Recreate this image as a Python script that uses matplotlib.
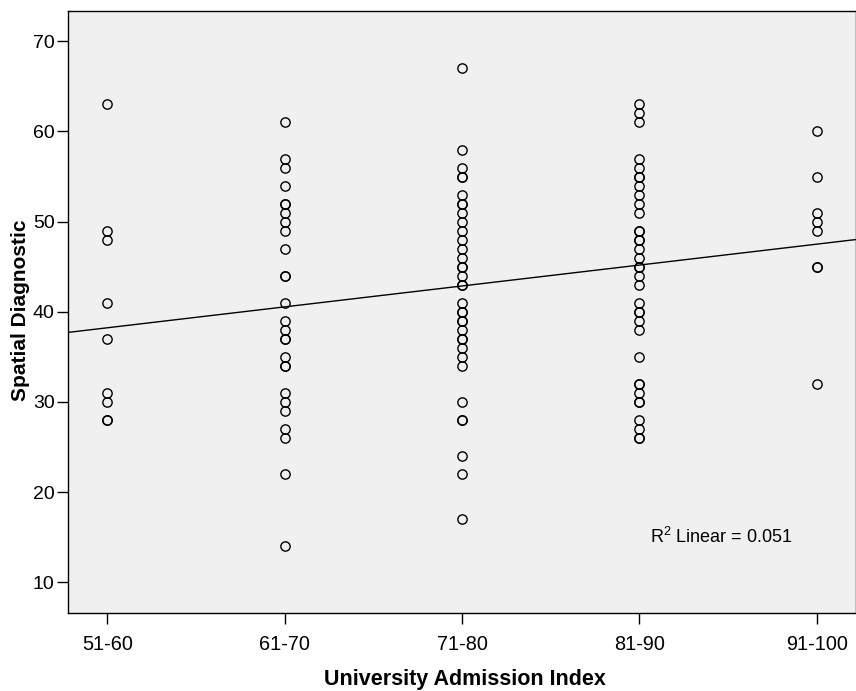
import matplotlib
matplotlib.use('Agg')
import matplotlib.pyplot as plt

plt.rcParams['font.family'] = ['Liberation Sans', 'DejaVu Sans']
plt.rcParams['mathtext.fontset'] = 'custom'
plt.rcParams['mathtext.rm'] = 'Liberation Sans'

face_color = '#F0F0F0'
ink_color = '#000000'

categories = ['51-60', '61-70', '71-80', '81-90', '91-100']

# spatial diagnostic scores, one list per admission band
scores_51_60 = [63, 49, 48, 41, 37, 31, 30, 28, 28]
scores_61_70 = [61, 57, 56, 54, 52, 52, 51, 50, 49, 47, 44, 44, 41, 39, 38, 37, 37,
				35, 34, 34, 31, 30, 29, 27, 26, 22, 14]
scores_71_80 = [67, 58, 56, 55, 55, 53, 52, 52, 51, 50, 49, 48, 47, 46, 45, 45, 44,
				43, 43, 41, 40, 40, 39, 39, 38, 37, 37, 36, 35, 34, 30, 28, 28, 24, 22, 17]
scores_81_90 = [63, 62, 61, 57, 56, 55, 55, 54, 53, 52, 51, 49, 49, 48, 48, 47, 46,
				45, 45, 44, 43, 41, 40, 40, 39, 38, 35, 32, 32, 31, 30, 30, 28, 27, 26, 26]
scores_91_100 = [60, 55, 51, 50, 49, 45, 45, 32]

all_scores = [scores_51_60, scores_61_70, scores_71_80, scores_81_90, scores_91_100]

# linear fit as shown on the chart (band index 1..5)
fit_intercept = 35.9
fit_slope = 2.32
r_squared = 0.051

y_ticks = [10, 20, 30, 40, 50, 60, 70]


def draw_points(ax):
	for num, scores in enumerate(all_scores, start = 1):
		ax.plot([num] * len(scores), scores, linestyle = 'none', marker = 'o',
				markersize = 6.7, markerfacecolor = 'none', markeredgecolor = ink_color,
				markeredgewidth = 1.0)


def draw_fit(ax, x_min, x_max):
	xs = [x_min, x_max]
	ys = [fit_intercept + fit_slope * x for x in xs]
	ax.plot(xs, ys, color = ink_color, linewidth = 1.0)


fig = plt.figure(figsize = (8.56, 6.91), dpi = 100)
ax = fig.add_axes([0.0791, 0.1124, 0.9204, 0.8716])
ax.set_facecolor(face_color)

x_min, x_max = 0.777, 5.218
draw_points(ax)
draw_fit(ax, x_min, x_max)

ax.set_xlim(x_min, x_max)
ax.set_ylim(6.54, 73.36)
ax.set_xticks(range(1, len(categories) + 1))
ax.set_xticklabels(categories)
ax.set_yticks(y_ticks)

for spine in ax.spines.values():
	spine.set_linewidth(1.0)
	spine.set_color(ink_color)

ax.tick_params(axis = 'x', direction = 'out', length = 7.8, width = 1.0, pad = 7.5, labelsize = 14.3)
ax.tick_params(axis = 'y', direction = 'out', length = 7.8, width = 1.0, pad = 1.7, labelsize = 14)

ax.text(4.058, 14.3, r'R$^{2}$ Linear = %.3f' % r_squared, fontsize = 13, ha = 'left', va = 'baseline')

fig.text(465 / 856, 0.009, 'University Admission Index', fontsize = 15.5, fontweight = 'bold',
		 ha = 'center', va = 'baseline')
fig.text(21 / 856, 1 - 310 / 691, 'Spatial Diagnostic', fontsize = 15, fontweight = 'bold',
		 rotation = 90, ha = 'center', va = 'center')

fig.savefig('out.png', dpi = 100, facecolor = 'white')
